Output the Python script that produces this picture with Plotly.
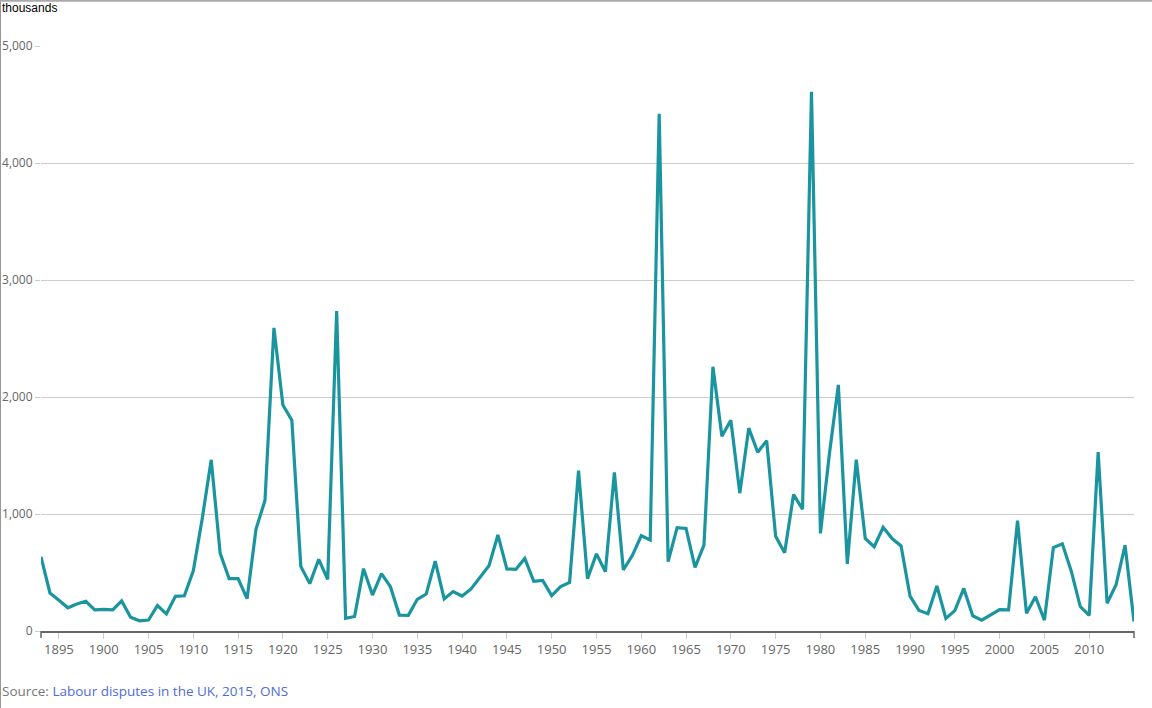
import plotly.graph_objects as go

# workers involved in labour disputes, UK (thousands)
years = list(range(1893, 2016))
workers = [
    634, 325, 263, 198, 230, 254, 180, 185, 180, 257,   # 1893-1902
    117, 87, 94, 218, 147, 296, 301, 515, 962, 1463,    # 1903-1912
    664, 447, 448, 276, 872, 1116, 2591, 1932, 1801, 552,  # 1913-1922
    405, 613, 441, 2734, 108, 124, 533, 307, 490, 379,  # 1923-1932
    136, 134, 271, 316, 597, 274, 337, 299, 360, 456,   # 1933-1942
    557, 821, 531, 526, 620, 424, 433, 302, 379, 415,   # 1943-1952
    1370, 448, 659, 507, 1356, 523, 645, 814, 778, 4420,  # 1953-1962
    593, 883, 876, 544, 734, 2258, 1665, 1801, 1178, 1734,  # 1963-1972
    1528, 1626, 809, 668, 1166, 1041, 4608, 834, 1513, 2103,  # 1973-1982
    574, 1464, 791, 720, 887, 790, 727, 298, 176, 148,  # 1983-1992
    385, 107, 174, 364, 130, 93, 141, 183, 180, 943,    # 1993-2002
    151, 293, 93, 713, 745, 511, 209, 133, 1530, 237,   # 2003-2012
    395, 733, 81,                                       # 2013-2015
]
x_ticks = list(range(1895, 2011, 5))
y_ticks = [0, 1000, 2000, 3000, 4000, 5000]

fig = go.Figure()
fig.add_trace(go.Scatter(x=years, y=workers, mode="lines",
                         line=dict(color="#1a95a0", width=3.2),
                         hoverinfo="x+y", showlegend=False))

fig.update_layout(
    width=1152, height=708,
    margin=dict(l=41, r=18, t=46, b=77),
    paper_bgcolor="white", plot_bgcolor="white",
    font=dict(family="Open Sans", size=13, color="#666"),
    xaxis=dict(range=[1893, 2015], tickvals=x_ticks, showgrid=False,
               showline=True, linecolor="#666", linewidth=1.5,
               ticks="outside", ticklen=6, tickcolor="#ccc",
               tickfont=dict(size=13, color="#666"), zeroline=False,
               automargin=False),
    yaxis=dict(range=[0, 5000], tickvals=y_ticks, tickformat=",",
               gridcolor="#ccc", showline=False, zeroline=False,
               ticks="outside", ticklen=5, tickcolor="#ccc",
               tickfont=dict(size=12, color="#666"), automargin=False),
)

# axis end caps, frame lines
fig.add_shape(type="line", xref="paper", yref="paper", x0=0, x1=0, y0=0, y1=-0.012,
              line=dict(color="#666", width=1.5))
fig.add_shape(type="line", xref="paper", yref="paper", x0=1, x1=1, y0=0, y1=-0.012,
              line=dict(color="#666", width=1.5))
fig.add_shape(type="line", xref="paper", yref="paper", x0=-0.0375, x1=-0.0375, y0=-0.14, y1=1.08,
              line=dict(color="#777", width=1.5))
fig.add_shape(type="line", xref="paper", yref="paper", x0=-0.04, x1=1.02, y0=1.0775, y1=1.0775,
              line=dict(color="#aaa", width=2))

fig.add_annotation(text="thousands", xref="paper", yref="paper", x=-0.0372, y=1.065,
                   xanchor="left", yanchor="middle", showarrow=False,
                   font=dict(family="Arial", size=12, color="black"))
fig.add_annotation(text="Source: <span style='color:#4f6bd8'>Labour disputes in the UK, 2015, ONS</span>",
                   xref="paper", yref="paper", x=-0.0372, y=-0.1026,
                   xanchor="left", yanchor="middle", showarrow=False,
                   font=dict(family="Open Sans", size=13.5, color="#777"))

fig.write_html("out.html", config={"displayModeBar": False},
               post_script="document.body.style.margin='0';")
